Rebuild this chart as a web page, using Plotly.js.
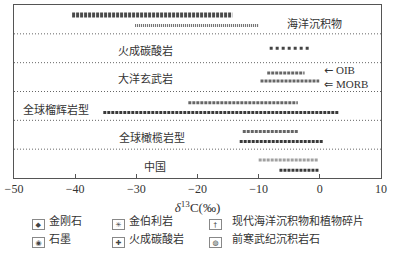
<!DOCTYPE html>
<html><head><meta charset="utf-8">
<script src="https://cdn.plot.ly/plotly-3.0.1.min.js"></script>
<style>body{margin:0;background:#fff}#c{width:394px;height:259px}</style>
</head><body><div id="c"></div>
<script>
// Rows, top to bottom
const categories = ['海洋沉积物','火成碳酸岩','大洋玄武岩','全球榴辉岩型','全球橄榄岩型','中国'];

// δ13C ranges (‰) per series: [category, min, max]
const precambrianRanges = [['海洋沉积物', -40.5, -14.3]];
const modernMarineRanges = [['海洋沉积物', -30.2, -10.0]];
const carbonatiteRanges = [['火成碳酸岩', -8.2, -1.6]];
const oibRanges = [['大洋玄武岩', -8.6, -2.5]];
const morbRanges = [['大洋玄武岩', -9.7, -0.1]];
const graphiteRanges = [['全球榴辉岩型', -21.5, -3.6], ['全球橄榄岩型', -12.6, -3.6]];
const diamondRanges = [['全球榴辉岩型', -35.4, 3.1], ['全球橄榄岩型', -13.1, 0.5], ['中国', -6.6, -0.2]];
const kimberliteRanges = [['中国', -10.0, -0.3]];

const xTicks = [-50, -40, -30, -20, -10, 0, 10];
const legendNames = ['金刚石','金伯利岩','现代海洋沉积物和植物碎片','石墨','火成碳酸岩','前寒武纪沉积岩石'];
const legendSymbols = ['◆','✳','†','◉','✚','◍'];
const basaltLabels = ['<span style="font-family:DejaVu Sans">←</span> OIB', '<span style="font-family:DejaVu Sans">⇐</span> MORB'];

function rowCenter(cat){ return categories.length - 1 - categories.indexOf(cat) + 0.5; }

function segTrace(ranges, offset, line, name){
  const x = [], y = [];
  ranges.forEach(r => { const yy = rowCenter(r[0]) + offset; x.push(r[1], r[2], null); y.push(yy, yy, null); });
  return {type:'scatter', mode:'lines', x, y, name, line, showlegend:false, hoverinfo:'skip'};
}

const traces = [
  segTrace(precambrianRanges, 0.15, {color:'#4a4a4a', width:5, dash:'3px,1px'}, '前寒武纪沉积岩石'),
  segTrace(modernMarineRanges, -0.21, {color:'#666', width:3, dash:'1px,1px'}, '现代海洋沉积物和植物碎片'),
  segTrace(carbonatiteRanges, 0.0, {color:'#444', width:3, dash:'3px,3px'}, '火成碳酸岩'),
  segTrace(oibRanges, 0.14, {color:'#666', width:3, dash:'3px,1px'}, 'OIB'),
  segTrace(morbRanges, -0.14, {color:'#666', width:3, dash:'3px,1px'}, 'MORB'),
  segTrace(graphiteRanges, 0.11, {color:'#666', width:3, dash:'3px,1px'}, '石墨'),
  segTrace(diamondRanges, -0.23, {color:'#3a3a3a', width:3, dash:'3px,1px'}, '金刚石'),
  segTrace(kimberliteRanges, 0.12, {color:'#a0a0a0', width:3, dash:'3px,1px'}, '金伯利岩')
];

const cjk = '"Noto Sans CJK SC", "Noto Sans", sans-serif';
const serif = '"Liberation Serif", "DejaVu Serif", serif';

// category labels
const labelPos = {'海洋沉积物':[-0.8, 5.38], '火成碳酸岩':[-28.5, 4.45], '大洋玄武岩':[-28.5, 3.47],
  '全球榴辉岩型':[-43.1, 2.39], '全球橄榄岩型':[-27.4, 1.42], '中国':[-27.0, 0.42]};
const annotations = categories.map(c => ({x:labelPos[c][0], y:labelPos[c][1], xref:'x', yref:'y',
  text:c, showarrow:false, font:{family:cjk, size:11, color:'#333'}}));

// OIB / MORB labels (one two-line text)
annotations.push({x:0.4, y:3.5, xref:'x', yref:'y', xanchor:'left', align:'left', text:basaltLabels.join('<br>'),
  showarrow:false, font:{family:serif, size:11, color:'#333'}});

// legend as boxed symbols + text
const colBoxX = [32, 112, 215];
const rowY = [230, 248];
const W = 394, H = 259, ml = 14, mr = 13, mt = 5, mb = 81;
const pw = W - ml - mr, ph = H - mt - mb;
const px2x = p => (p - ml) / pw;
const py2y = p => (H - mb - p) / ph;
legendNames.forEach((n, i) => {
  const col = i % 3, row = Math.floor(i / 3);
  annotations.push({xref:'paper', yref:'paper', x:px2x(colBoxX[col]), y:py2y(rowY[row]), text:legendSymbols[i],
    showarrow:false, bordercolor:'#888', borderwidth:1, borderpad:0, width:11, height:9,
    font:{family:'"DejaVu Sans", sans-serif', size:7, color:'#444'}});
  annotations.push({xref:'paper', yref:'paper', x:px2x(colBoxX[col] + 15), y:py2y(rowY[row]), xanchor:'left', text:n,
    showarrow:false, font:{family:cjk, size:11, color:'#333'}});
});

// dotted separators
const shapes = [];
for (let k = 1; k < categories.length; k++) {
  shapes.push({type:'line', xref:'paper', yref:'y', x0:0, x1:1, y0:k, y1:k, line:{color:'#666', width:1, dash:'1px,2px'}});
}

const layout = {
  width: W, height: H, margin:{l:ml, r:mr, t:mt, b:mb},
  paper_bgcolor:'#fff', plot_bgcolor:'#fff', showlegend:false,
  xaxis:{range:[-50, 10], tickvals:xTicks, ticks:'inside', ticklen:4, tickcolor:'#555',
    showline:true, mirror:true, linecolor:'#555', linewidth:1, showgrid:false, zeroline:false,
    tickfont:{family:serif, size:12, color:'#333'},
    title:{text:'<i>δ</i><sup>13</sup>C(‰)', font:{family:serif, size:13, color:'#333'}, standoff:7}},
  yaxis:{range:[0, 6], showticklabels:false, ticks:'', showline:true, mirror:true, linecolor:'#555',
    linewidth:1, showgrid:false, zeroline:false},
  annotations, shapes
};

Plotly.newPlot('c', traces, layout, {staticPlot:true});
</script></body></html>
